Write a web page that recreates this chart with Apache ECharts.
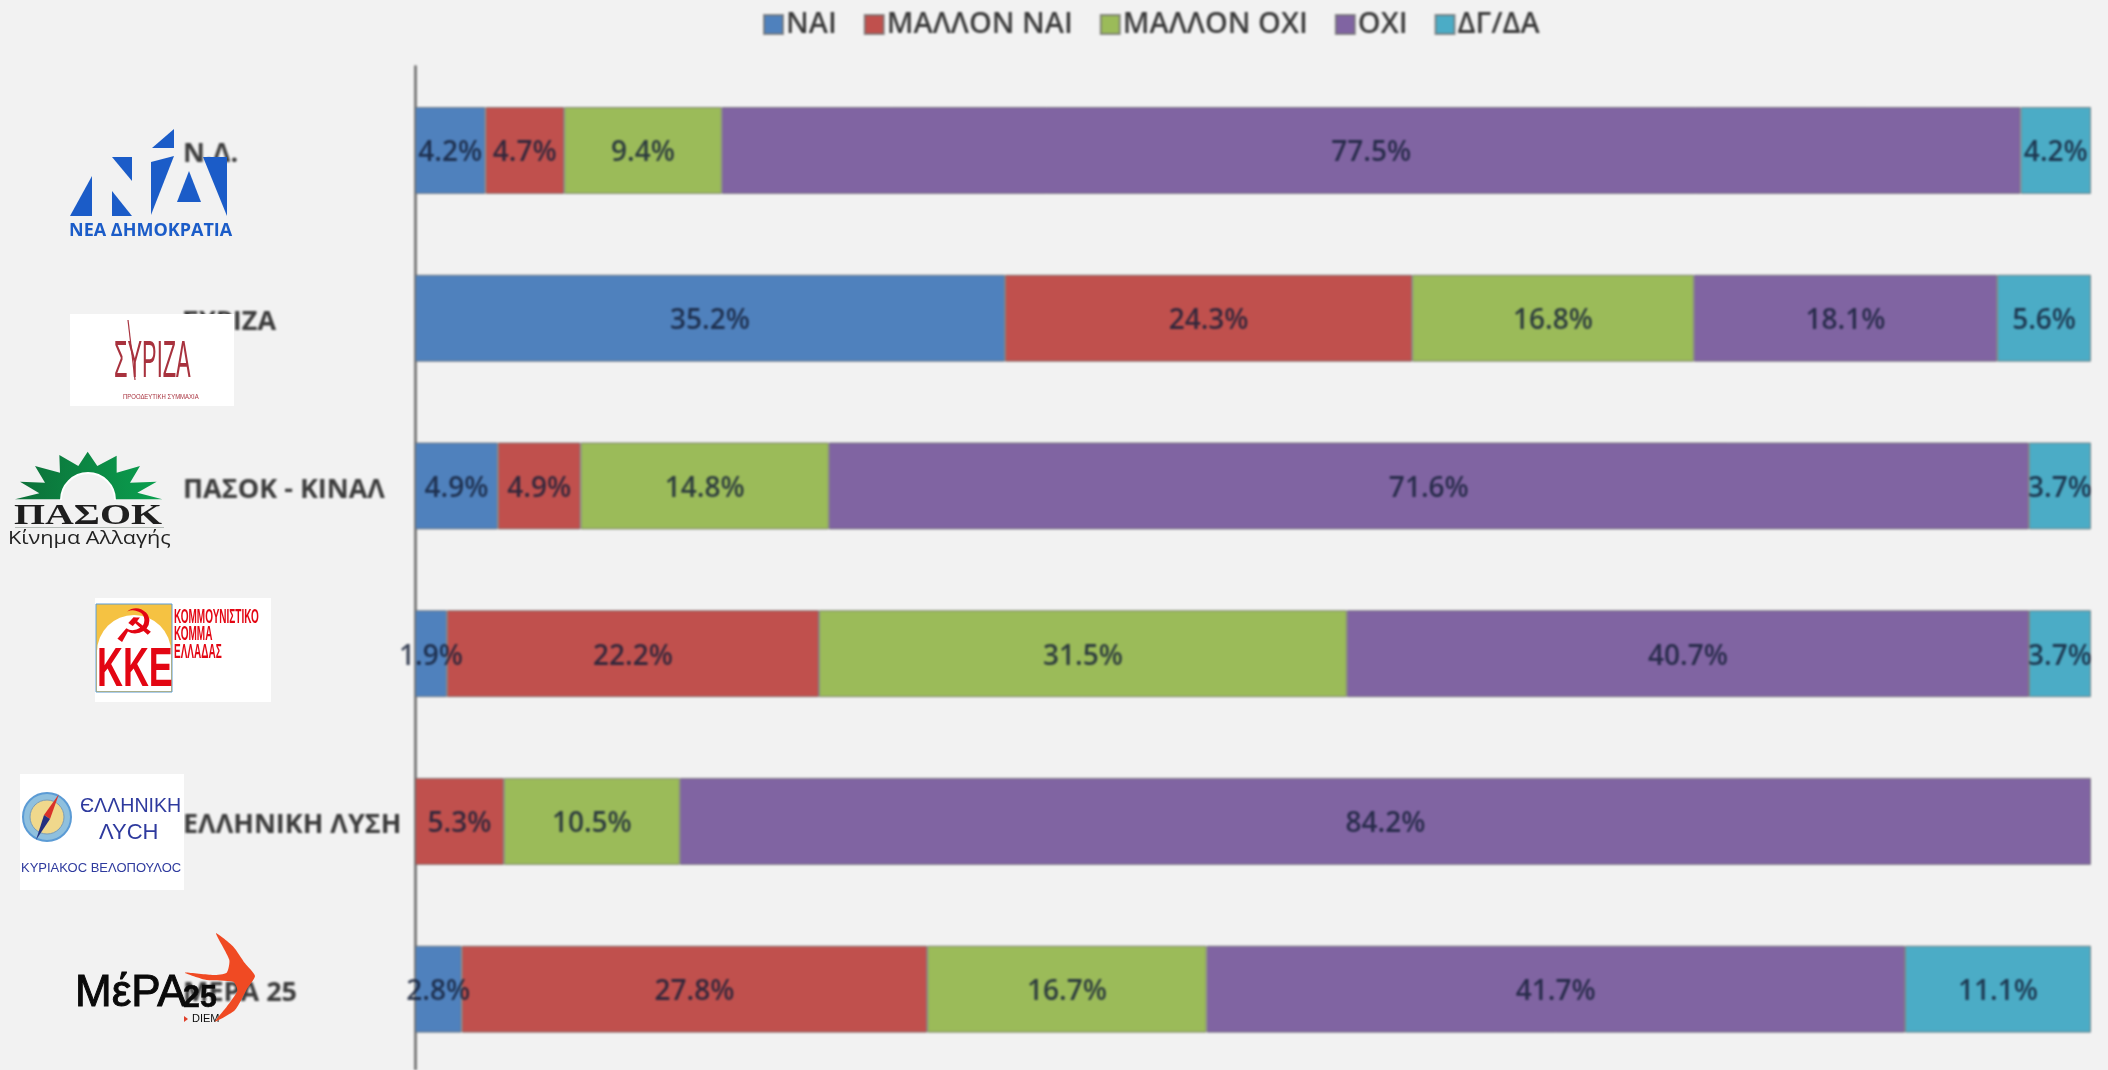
<!DOCTYPE html>
<html><head><meta charset="utf-8">
<style>
html,body{margin:0;padding:0;background:#f2f2f2;overflow:hidden}
#chart,#logos{position:absolute;left:0;top:0;width:2108px;height:1070px}
#chart{filter:blur(1.1px)}
#logos{pointer-events:none;filter:blur(.35px)}
</style>
<script src="https://cdn.jsdelivr.net/npm/echarts@6/dist/echarts.min.js"></script>
</head><body>
<div id="chart"></div><div id="logos"></div>
<script>
const categories = ['Ν.Δ.','ΣΥΡΙΖΑ','ΠΑΣΟΚ - ΚΙΝΑΛ','ΚΚΕ','ΕΛΛΗΝΙΚΗ ΛΥΣΗ','ΜΕΡΑ 25'];
const nai       = [4.2,35.2,4.94,1.9,0,2.78];
const mallonNai = [4.7,24.3,4.94,22.2,5.3,27.78];
const mallonOxi = [9.4,16.8,14.81,31.5,10.5,16.67];
const oxi       = [77.5,18.1,71.6,40.7,84.2,41.67];
const dgda      = [4.2,5.6,3.71,3.7,0,11.1];
const seriesNames = ['ΝΑΙ','ΜΑΛΛΟΝ ΝΑΙ','ΜΑΛΛΟΝ ΟΧΙ','ΟΧΙ','ΔΓ/ΔΑ'];
const seriesValues = [nai,mallonNai,mallonOxi,oxi,dgda];
const colors = ['#4f81bd','#c0504d','#9bbb59','#8064a2','#4bacc6'];
const font = '"Open Sans","Noto Sans",sans-serif';

const chart = echarts.init(document.getElementById('chart'),null,{renderer:'canvas'});
chart.setOption({
  animation:false,
  backgroundColor:'#f2f2f2',
  color:colors,
  legend:{
    top:5,left:758,icon:'rect',itemWidth:19,itemHeight:19,itemGap:27,
    data:seriesNames,
    textStyle:{fontFamily:font,fontSize:29,fontWeight:600,color:'#3a3a3a',padding:[0,0,0,-2]}
  },
  grid:{left:415,top:66.6,width:1676,height:1006.4,outerBoundsMode:'none'},
  xAxis:{type:'value',min:0,max:100,show:false},
  yAxis:{
    type:'category',inverse:true,data:categories,
    axisLine:{show:true,lineStyle:{color:'#7f7f7f',width:3}},
    axisTick:{show:false},
    axisLabel:{align:'left',margin:232,verticalAlign:'top',lineHeight:8,fontFamily:font,fontSize:27,fontWeight:700,color:'#3c3c3c'}
  },
  series:seriesNames.map((name,i)=>({
    name,type:'bar',stack:'t',barWidth:87,
    data:seriesValues[i].map(v=>v===0?null:v),
    itemStyle:{color:colors[i],borderColor:'rgba(110,110,110,.75)',borderWidth:1},
    label:{show:true,position:'inside',offset:[0,3],formatter:p=>p.value.toFixed(1)+'%',
      fontFamily:font,fontSize:28,fontWeight:600,color:'rgba(20,30,55,.82)'}
  }))
});

/* party logos: decorative, drawn as shapes and text on a sharper layer */
const T=(x,y,text,size,fill,extra,sx)=>({type:'text',x,y,scaleX:sx||1,style:Object.assign({text,fontSize:size,fill,fontFamily:'"Liberation Sans",sans-serif',textVerticalAlign:'middle'},extra||{})});
const P=(pts,fill,smooth)=>({type:'polygon',shape:{points:pts,smooth:smooth||0},style:{fill}});
const R=(x,y,w,h,fill,stroke)=>({type:'rect',shape:{x,y,width:w,height:h},style:{fill,stroke}});
const Z=(pts,ox,oy)=>pts.map(p=>[ox+p[0]/3,oy+p[1]/3]);
const B='#1b5cc8', RED='#e30613', NAVY='#2e3a9e', SY='#a8323e';
const boldRed={fontWeight:'bold'};
const sunOutline=[[45,178],[118,160],[60,125],[135,128],[105,78],[180,98],[178,45],[235,78],[263,35],[292,78],[350,47],[350,98],[420,78],[390,128],[470,125],[412,158],[487,178]];
const swift=[[648,1090],[700,1130],[735,1180],[765,1218],[742,1255],[705,1320],[645,1355],[680,1310],[712,1262],[700,1235],[620,1230],[555,1208],[640,1215],[680,1208],[688,1170]];
const logos=[
  P([[70,216],[92,216],[92,176]],B),P([[112,216],[132,216],[112,191]],B),P([[112,157],[132,157],[132,181]],B),
  P([[151,162],[174,156],[151,215]],B),P([[152,148],[174,148],[174,129]],B),P([[177,202],[201,202],[189,171]],B),P([[203,157],[227,157],[227,216]],B),
  T(69,231,'ΝΕΑ ΔΗΜΟΚΡΑΤΙΑ',18,B,{fontWeight:'bold',fontFamily:'"Open Sans",sans-serif'}),

  R(70,314,164,92,'#ffffff'),
  T(114,363,'ΣΥΡΙΖΑ',52,SY,{},0.42),
  {type:'polyline',shape:{points:[[128,320],[135,380]]},style:{stroke:SY,lineWidth:1.2,fill:'none'}},
  T(123,397,'ΠΡΟΟΔΕΥΤΙΚΗ ΣΥΜΜΑΧΙΑ',7,SY,{},0.85),

  P(Z(sunOutline,0,440),new echarts.graphic.LinearGradient(0,0,1,0,[{offset:0,color:'#0c6f38'},{offset:1,color:'#0aa04f'}])),
  {type:'circle',shape:{cx:88,cy:500,r:27},style:{fill:'#f2f2f2',stroke:'#ffffff',lineWidth:2}},
  R(10,500,160,30,'#f2f2f2'),
  T(14,516,'ΠΑΣΟΚ',30,'#1e1e1e',{fontFamily:'"Liberation Serif",serif',fontWeight:'bold'},1.33),
  R(15,527,149,1,'#b5bcb8'),
  T(8,539,'Κίνημα Αλλαγής',19,'#222222',{fontFamily:'"Open Sans",sans-serif'},1.14),

  R(95,598,176,104,'#ffffff'),
  R(96,604,76,88,'#f5c242','#5b9bd5'),
  {type:'circle',shape:{cx:134,cy:652,r:37},style:{fill:'#ffffff'}},
  R(97,650,74,41,'#ffffff'),
  T(134,630,'☭',46,RED,{textAlign:'center',fontFamily:'"DejaVu Sans",sans-serif'}),
  T(97,671,'KKE',56,RED,boldRed,0.64),
  T(174,617,'ΚΟΜΜΟΥΝΙΣΤΙΚΟ',20,RED,boldRed,0.5),
  T(174,634,'ΚΟΜΜΑ',20,RED,boldRed,0.5),
  T(174,652,'ΕΛΛΑΔΑΣ',20,RED,boldRed,0.5),

  R(20,774,164,116,'#ffffff'),
  {type:'circle',shape:{cx:47,cy:817,r:24},style:{fill:'#8fc0de',stroke:'#5b9bd5',lineWidth:2}},
  {type:'circle',shape:{cx:47,cy:817,r:17},style:{fill:'#f0d88c',stroke:'#7a9db8',lineWidth:1}},
  P([[59,794],[50,819],[44,815]],'#d8322a'),P([[36,840],[50,819],[44,815]],'#23307f'),
  T(80,807,'ЄΛΛΗΝΙΚΗ',19.6,NAVY),
  T(99,833,'ΛΥCΗ',22,NAVY),
  T(21,868,'ΚΥΡΙΑΚΟC ΒΕΛΟΠΟΥΛΟC',13,NAVY),

  T(75,994,'ΜέΡΑ',44,'#0a0a0a',{stroke:'#0a0a0a',lineWidth:1}),
  T(183,998,'25',32,'#0a0a0a',{fontWeight:'bold',stroke:'#0a0a0a',lineWidth:.5},0.95),
  T(192,1019,'DIEM',11,'#0a0a0a'),
  P([[184,1016],[188,1019],[184,1022]],'#e0402a'),
  P(Z(swift,0,570),'#f04a23',0.2)
];
const lc=echarts.init(document.getElementById('logos'));
lc.setOption({animation:false,backgroundColor:'transparent',graphic:{elements:logos}});
</script>
</body></html>
